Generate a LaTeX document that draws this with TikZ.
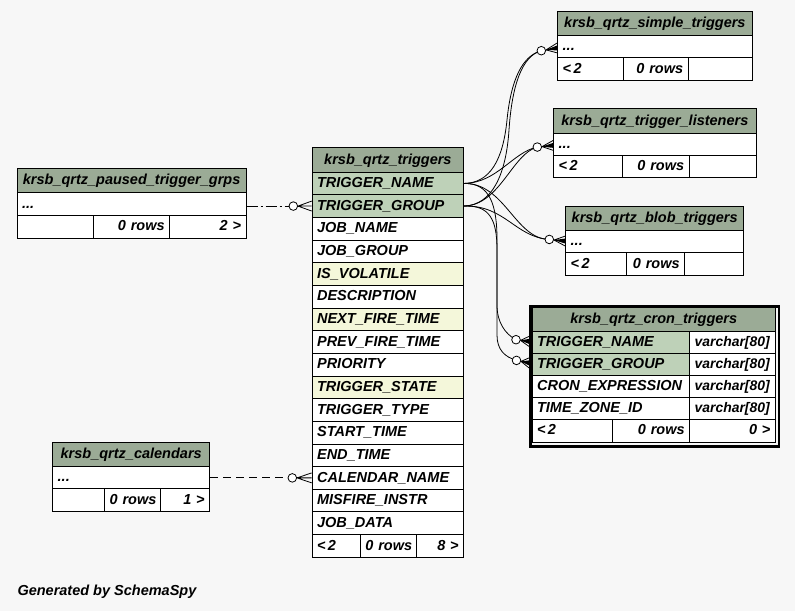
\documentclass[tikz,border=0pt]{standalone}
\usepackage{fontspec}
\setmainfont{Liberation Sans}
\usetikzlibrary{calc}
\definecolor{bgc}{HTML}{F7F7F7}
\definecolor{hdrc}{HTML}{9BAB96}
\definecolor{keyc}{HTML}{BED1B8}
\definecolor{idxc}{HTML}{F4F7DA}
\newcommand\tabfont{\fontsize{14.5}{16}\selectfont\bfseries\itshape}
\newcommand\typefont{\fontsize{13.9}{16}\selectfont\bfseries\itshape}
\newcommand\cell[7]{%
  \pgfmathsetmacro\celltw{#4-10}%
  \node[cellbase,#6,text width=\celltw pt,minimum height=#5pt] (#1) at (#2,#3) {#7};}
\newcommand\crowend[3]{%
  \draw[conn] ($(#1)+(4.3,0)$) -- (#2);
  \draw[conn] (#2) -- ($(#3)+(0,-5)$) (#2) -- (#3) (#2) -- ($(#3)+(0,5)$);
  \draw[conn,fill=white] (#1) circle[radius=4.3pt];}
\newcommand\crowendf[3]{%
  \crowend{#1}{#2}{#3}
  \fill (#2) -- ($(#3)+(0,-2.5)$) -- ($(#3)+(0,2.5)$) -- cycle;}
\tikzset{
  cellbase/.style={draw=black,line width=0.8pt,anchor=north west,inner xsep=5pt,inner ysep=0pt,
    text height=10.4pt,text depth=2pt,font=\tabfont,fill=white,align=left},
  hdr/.style={fill=hdrc,align=center},
  rgt/.style={align=right},
  typ/.style={font=\typefont,align=left},
  conn/.style={line width=0.8pt,black},
}
\begin{document}
\begin{tikzpicture}[x=1pt,y=-1pt]
\fill[bgc] (0,0) rectangle (795,611);
\useasboundingbox (0,0) rectangle (795,611);

% ---------- krsb_qrtz_triggers ----------
\cell{trh}{311.7}{147.3}{151.6}{24.4}{hdr}{krsb\_qrtz\_triggers}
\foreach \t/\f [count=\i] in {TRIGGER\_NAME/keyc, TRIGGER\_GROUP/keyc, JOB\_NAME/white,
  JOB\_GROUP/white, IS\_VOLATILE/idxc, DESCRIPTION/white, NEXT\_FIRE\_TIME/idxc,
  PREV\_FIRE\_TIME/white, PRIORITY/white, TRIGGER\_STATE/idxc, TRIGGER\_TYPE/white,
  START\_TIME/white, END\_TIME/white, CALENDAR\_NAME/white, MISFIRE\_INSTR/white, JOB\_DATA/white}{
  \pgfmathsetmacro\yy{171.7+(\i-1)*22.65}
  \cell{tr\i}{311.7}{\yy}{151.6}{22.65}{fill=\f}{\t}
}
\cell{trfa}{311.7}{534.1}{48.3}{22.65}{}{<\,2}
\cell{trfb}{360}{534.1}{55.7}{22.65}{rgt}{\mbox{0 rows}}
\cell{trfc}{415.7}{534.1}{47.6}{22.65}{rgt}{8 >}

% ---------- krsb_qrtz_paused_trigger_grps ----------
\cell{ph}{16.7}{168.3}{229}{24}{hdr}{krsb\_qrtz\_paused\_trigger\_grps}
\cell{pr}{16.7}{192.3}{229}{22.7}{}{...}
\cell{pfa}{16.7}{215}{76.6}{22.5}{}{}
\cell{pfb}{93.3}{215}{76}{22.5}{rgt}{\mbox{0 rows}}
\cell{pfc}{169.3}{215}{76.4}{22.5}{rgt}{2 >}

% ---------- krsb_qrtz_calendars ----------
\cell{ch}{52.3}{442.3}{157}{23.4}{hdr}{krsb\_qrtz\_calendars}
\cell{cr}{52.3}{465.7}{157}{22.3}{}{...}
\cell{cfa}{52.3}{488}{52}{23}{}{}
\cell{cfb}{104.3}{488}{55.7}{23}{rgt}{\mbox{0 rows}}
\cell{cfc}{160}{488}{49.3}{23}{rgt}{1 >}

% ---------- krsb_qrtz_simple_triggers ----------
\cell{sh}{557.3}{11.3}{194.4}{23.7}{hdr}{krsb\_qrtz\_simple\_triggers}
\cell{sr}{557.3}{35}{194.4}{22.4}{}{...}
\cell{sfa}{557.3}{57.4}{66}{22.6}{}{<\,2}
\cell{sfb}{623.3}{57.4}{64.4}{22.6}{rgt}{\mbox{0 rows}}
\cell{sfc}{687.7}{57.4}{64}{22.6}{}{}

% ---------- krsb_qrtz_trigger_listeners ----------
\cell{lh}{553.3}{108.3}{202.4}{24.2}{hdr}{krsb\_qrtz\_trigger\_listeners}
\cell{lr}{553.3}{132.5}{202.4}{22.5}{}{...}
\cell{lfa}{553.3}{155}{68.4}{22.3}{}{<\,2}
\cell{lfb}{621.7}{155}{67}{22.3}{rgt}{\mbox{0 rows}}
\cell{lfc}{688.7}{155}{67}{22.3}{}{}

% ---------- krsb_qrtz_blob_triggers ----------
\cell{bh}{565.3}{205.7}{178}{23.8}{hdr}{krsb\_qrtz\_blob\_triggers}
\cell{br}{565.3}{229.5}{178}{22.3}{}{...}
\cell{bfa}{565.3}{251.8}{60.4}{23.4}{}{<\,2}
\cell{bfb}{625.7}{251.8}{58.6}{23.4}{rgt}{\mbox{0 rows}}
\cell{bfc}{684.3}{251.8}{59}{23.4}{}{}

% ---------- krsb_qrtz_cron_triggers ----------
\node[draw,line width=2.8pt,minimum width=248.5pt,minimum height=140.6pt,anchor=north west,inner sep=0pt] (ctframe) at (529.1,304.7) {};
\cell{kh}{531.7}{307.3}{243.3}{23.4}{hdr}{krsb\_qrtz\_cron\_triggers}
\cell{k1}{531.7}{330.7}{157.6}{21.8}{fill=keyc}{TRIGGER\_NAME}
\cell{k1t}{689.3}{330.7}{85.7}{21.8}{typ}{\mbox{varchar[80]}}
\cell{k2}{531.7}{352.5}{157.6}{22}{fill=keyc}{TRIGGER\_GROUP}
\cell{k2t}{689.3}{352.5}{85.7}{22}{typ}{\mbox{varchar[80]}}
\cell{k3}{531.7}{374.5}{157.6}{22}{}{CRON\_EXPRESSION}
\cell{k3t}{689.3}{374.5}{85.7}{22}{typ}{\mbox{varchar[80]}}
\cell{k4}{531.7}{396.5}{157.6}{22}{}{TIME\_ZONE\_ID}
\cell{k4t}{689.3}{396.5}{85.7}{22}{typ}{\mbox{varchar[80]}}
\cell{kfa}{531.7}{418.5}{80}{23.2}{}{<\,2}
\cell{kfb}{611.7}{418.5}{77.6}{23.2}{rgt}{\mbox{0 rows}}
\cell{kfc}{689.3}{418.5}{85.7}{23.2}{rgt}{0 >}

% ---------- connector end points ----------
\coordinate (pC) at ($(tr2.west)+(-18.4,0)$);
\coordinate (pA) at ($(tr2.west)+(-13.7,0)$);
\coordinate (pP) at (tr2.west);
\coordinate (cC) at ($(tr14.west)+(-19.4,0)$);
\coordinate (cA) at ($(tr14.west)+(-14.7,0)$);
\coordinate (cP) at (tr14.west);
\coordinate (sP) at ($(sr.west)+(0,1.3)$);
\coordinate (sA) at ($(sr.west)+(-11.3,3.3)$);
\coordinate (sC) at ($(sr.west)+(-16,4.1)$);
\coordinate (lP) at ($(lr.west)+(0,1.2)$);
\coordinate (lA) at ($(lr.west)+(-11.3,2.5)$);
\coordinate (lC) at ($(lr.west)+(-16,2.9)$);
\coordinate (bP) at ($(br.west)+(0,0)$);
\coordinate (bA) at ($(br.west)+(-11.3,-1)$);
\coordinate (bC) at ($(br.west)+(-16,-1.6)$);
\coordinate (k1P) at ($(k1.west)+(-2.7,-0.6)$);
\coordinate (k1A) at ($(k1.west)+(-11.2,-1.6)$);
\coordinate (k1C) at ($(k1.west)+(-15.7,-2.3)$);
\coordinate (k2P) at ($(k2.west)+(-2.7,-1)$);
\coordinate (k2A) at ($(k2.west)+(-10.7,-2.5)$);
\coordinate (k2C) at ($(k2.west)+(-15.2,-3.5)$);

% ---------- left connectors ----------
\draw[conn,dash pattern=on 11pt off 3pt on 2pt off 3pt] (pr.east |- tr2.west) -- (pC);
\crowend{pC}{pA}{pP}
\draw[conn,dash pattern=on 8pt off 5pt] (cr.east |- tr14.west) -- (cC);
\crowend{cC}{cA}{cP}

% ---------- right connectors ----------
\draw[conn] (tr1.east) .. controls (490,183) and (503,160) .. (507,120)
  .. controls (511,80) and (522,56) .. (sC);
\draw[conn] (tr2.east) .. controls (492,205) and (506,175) .. (509,130)
  .. controls (512,85) and (522,56) .. (sC);
\draw[conn] (tr1.east) .. controls (497,183) and (513,152) .. (lC);
\draw[conn] (tr2.east) .. controls (500,205) and (512,154) .. (lC);
\draw[conn] (tr1.east) .. controls (505,183) and (515,239) .. (bC);
\draw[conn] (tr2.east) .. controls (505,205) and (515,237) .. (bC);
\draw[conn] (tr1.east) .. controls (490,183) and (497,205) .. (497,240) -- (497,305)
  .. controls (497,322) and (505,334) .. (k1C);
\draw[conn] (tr2.east) .. controls (490,205) and (497,220) .. (497,250) -- (497,335)
  .. controls (497,350) and (505,357) .. (k2C);
\crowendf{sC}{sA}{sP}
\crowendf{lC}{lA}{lP}
\crowendf{bC}{bA}{bP}
\crowendf{k1C}{k1A}{k1P}
\crowendf{k2C}{k2A}{k2P}

% ---------- footer ----------
\node[anchor=base west,font=\tabfont,inner sep=0pt] (gen) at (17.3,595) {Generated by SchemaSpy};
\end{tikzpicture}
\end{document}
